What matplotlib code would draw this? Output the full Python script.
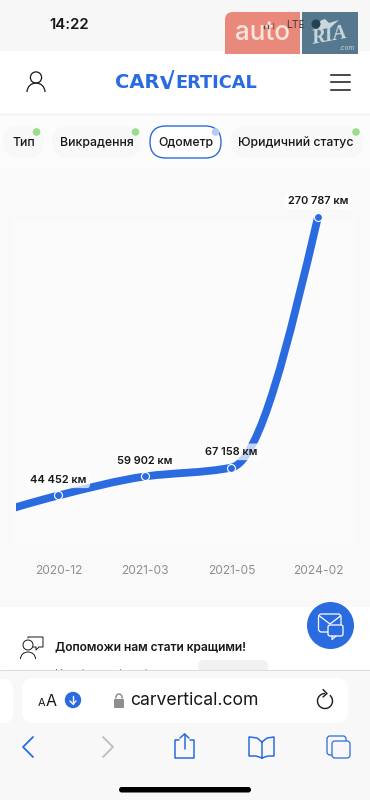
import numpy as np
import matplotlib
matplotlib.use('Agg')
import matplotlib.pyplot as plt
from matplotlib.patches import Rectangle, FancyBboxPatch, Circle, Arc, Polygon, PathPatch
from matplotlib.path import Path

plt.rcParams['font.family'] = ['Inter', 'DejaVu Sans']

# Data
dates = ['2020-12', '2021-03', '2021-05', '2024-02']
odometer = [44452, 59902, 67158, 270787]
odometer_labels = ['44 452 км', '59 902 км', '67 158 км', '270 787 км']
# the line enters from the left edge, earlier reading is hidden in the screenshot
hidden_reading = 24000

tabs = ['Тип', 'Викрадення', 'Одометр', 'Юридичний статус']

BLUE = '#2b6be0'
INK = '#17181a'
PX = 0.72  # px to pt at dpi 100


def px(size):
    return size * PX


def monotone_path(xs, ys):
    """Cubic bezier path through the points, monotone in x."""
    xs = np.asarray(xs, float)
    ys = np.asarray(ys, float)
    s = np.diff(ys) / np.diff(xs)
    t = np.zeros(len(xs))
    for i in range(1, len(xs) - 1):
        if s[i - 1] * s[i] > 0:
            t[i] = 2 * s[i - 1] * s[i] / (s[i - 1] + s[i])
    t[0] = (3 * s[0] - t[1]) / 2
    t[-1] = (3 * s[-1] - t[-2]) / 2
    verts = [(xs[0], ys[0])]
    codes = [Path.MOVETO]
    for i in range(len(s)):
        d = (xs[i + 1] - xs[i]) / 3
        verts += [(xs[i] + d, ys[i] + t[i] * d), (xs[i + 1] - d, ys[i + 1] - t[i + 1] * d), (xs[i + 1], ys[i + 1])]
        codes += [Path.CURVE4] * 3
    return Path(verts, codes)


def pill(ax, x0, y0, x1, y1, r, fc, ec='none', lw=0, z=2):
    p = FancyBboxPatch((x0 + r, y0 + r), x1 - x0 - 2 * r, y1 - y0 - 2 * r,
                       boxstyle=f'round,pad={r},rounding_size={r}', fc=fc, ec=ec, lw=lw, zorder=z)
    ax.add_patch(p)
    return p


def stroke(ax, pts, color, lw=1.3, z=6):
    a = np.array(pts, float)
    ax.plot(a[:, 0], a[:, 1], color=color, lw=lw, zorder=z, solid_capstyle='round', solid_joinstyle='round')


fig = plt.figure(figsize=(3.7, 8.0), dpi=100, facecolor='white')

# Page chrome, drawn in pixel coordinates
bg = fig.add_axes([0, 0, 1, 1])
bg.set_xlim(0, 370)
bg.set_ylim(800, 0)
bg.axis('off')

bg.add_patch(Rectangle((0, 0), 370, 51, fc='#f7f7f7', zorder=1))
bg.add_patch(Rectangle((0, 51), 370, 62, fc='white', zorder=1))
bg.add_patch(Rectangle((0, 113), 370, 55, fc='#fcfcfc', zorder=1))
bg.plot([0, 370], [113.5, 113.5], color='#f1f1f1', lw=1, zorder=2)
bg.add_patch(Rectangle((0, 168), 370, 439, fc='#f9f9fa', zorder=1))
bg.add_patch(Rectangle((13, 220), 342, 323, fc='#fbfbfb', zorder=1.5))
bg.add_patch(Rectangle((0, 607), 370, 63, fc='white', zorder=1))

# Status bar and watermark
bg.text(69.5, 25, '14:22', fontsize=px(15), fontweight='semibold', color=INK, ha='center', va='center', zorder=3)
pill(bg, 225, 12, 300, 62, 8, '#e8897c', z=2)
bg.add_patch(Rectangle((225, 51), 75, 12, fc='white', zorder=2.1))
bg.add_patch(Rectangle((225, 51), 75, 3, fc='#e8897c', zorder=2.2))
bg.add_patch(Rectangle((233, 12), 67, 42, fc='#e8897c', zorder=2.2))
bg.text(263, 33, 'auto', fontsize=px(26), fontweight='medium', color='#fbe3dd', ha='center', va='center', zorder=3)
bg.add_patch(Rectangle((302, 12), 56, 42, fc='#55788e', zorder=2))
bg.text(329, 36, 'RIA', fontsize=px(21), family='Liberation Serif', fontweight='bold', style='italic',
        color='#c8d8de', ha='center', va='center', rotation=10, zorder=3)
bg.text(347, 48, '.com', fontsize=px(6.5), color='#c8d8de', style='italic', ha='center', va='center', zorder=3)
bg.add_patch(Polygon([(316, 24), (322, 20), (325, 19), (329, 23), (339, 20), (331, 27), (320, 30)],
                     fc='#c8d8de', zorder=3))
bg.add_patch(Circle((316, 24), 4.5, fc='#26404f', zorder=3.1))
bg.text(296, 25.5, 'LTE', fontsize=px(10.5), color='#4c3a38', ha='center', va='center', zorder=3)
for x, h, c in [(264, 2, '#5a4a48'), (268, 3, '#5a4a48'), (272.5, 5, '#b04a40')]:
    bg.plot([x, x], [27.5, 27.5 - h], color=c, lw=1, zorder=3)

# Header
bg.add_patch(Circle((36, 77.5), 5.6, fc='none', ec=INK, lw=0.9, zorder=3))
bg.add_patch(Arc((36, 92), 18, 18, theta1=180, theta2=360, ec=INK, lw=0.9, zorder=3))
for y in [74.5, 82, 89.5]:
    bg.plot([331, 350], [y, y], color=INK, lw=1.1, zorder=3)
bg.text(115, 82.5, 'CAR', fontsize=px(19.5), family='DejaVu Sans', fontweight='bold', color=BLUE,
        ha='left', va='center', zorder=3)
bg.text(175, 82.5, 'ERTICAL', fontsize=px(17.7), family='DejaVu Sans', fontweight='bold', color=BLUE,
        ha='left', va='center', zorder=3)
bg.add_patch(Polygon([(160, 76), (164, 76), (167.5, 85), (172.5, 70), (174.5, 70), (169, 89), (165, 89)],
                     fc=BLUE, zorder=3))

# Tabs
tab_boxes = [(3, 44), (52, 141), (150, 221), (231, 363)]
tab_dots = [(36.5, 132), (135.5, 132), (215.5, 132), (356, 132)]
for i, (label, box, dot) in enumerate(zip(tabs, tab_boxes, tab_dots)):
    active = label == 'Одометр'
    pill(bg, box[0], 126, box[1], 158, 16, 'white' if active else '#f8f8f8',
         BLUE if active else 'none', 1.0 if active else 0, z=2)
    bg.text(sum(box) / 2 - (1 if i == 3 else 0), 143, label, fontsize=px(12.3), fontweight='medium', color=INK,
            ha='center', va='center', zorder=3)
    bg.add_patch(Circle(dot, 3.8, fc='#b3cdf0' if active else '#9bdc8e', ec='none', zorder=4))

# Odometer chart
ax = fig.add_axes([16 / 370, 1 - 543 / 800, 339 / 370, 343 / 800])
ax.patch.set_visible(False)
ax.set_xlim(-0.491, 3.428)
ax.set_ylim(5849, 284599)
positions = np.arange(len(dates))

line_x = np.concatenate([[-1], positions])
line_y = [hidden_reading] + odometer
ax.add_patch(PathPatch(monotone_path(line_x, line_y), fc='none', ec=BLUE, lw=px(7.8), capstyle='butt', zorder=2))
ax.plot(positions, odometer, 'o', ms=px(8), mfc=BLUE, mec='white', mew=0.8, zorder=3, clip_on=False)
for pos, val, lab in zip(positions, odometer, odometer_labels):
    ax.annotate(lab, (pos, val), xytext=(0, px(15.7)), textcoords='offset points', ha='center', va='center',
                fontsize=px(11), fontweight='semibold', color=INK, zorder=4, annotation_clip=False,
                bbox=dict(boxstyle='round,pad=0.3', fc='white', ec='none', alpha=0.72))

ax.set_xticks(positions)
ax.set_xticklabels(dates, fontsize=px(12), color='#8e8f91')
ax.set_yticks([])
ax.tick_params(axis='x', length=0, pad=px(21.5))
for side in ax.spines:
    ax.spines[side].set_visible(False)

# Footer content, cut off by the browser toolbar
chrome = fig.add_axes([0, 0, 1, 1])
chrome.set_xlim(0, 370)
chrome.set_ylim(800, 0)
chrome.axis('off')
chrome.patch.set_visible(False)

chrome.text(55, 648, 'Допоможи нам стати кращими!', fontsize=px(12), fontweight='semibold', color=INK,
            ha='left', va='center', zorder=3)
pill(chrome, 198, 660, 268, 680, 6, '#f1f1f1', z=2)
chrome.text(55, 673, 'Наскільки ці дані', fontsize=px(11), color='#555555', va='center', zorder=2)
chrome.add_patch(Circle((28, 645), 5, fc='none', ec=INK, lw=0.7, zorder=3))
chrome.add_patch(Arc((28, 659), 15, 14, theta1=180, theta2=360, ec=INK, lw=0.7, zorder=3))
stroke(chrome, [(28, 638), (28, 637), (43, 637), (43, 647), (39, 647), (36, 650), (36, 647), (33, 647)], INK, 0.7, 3)

# Chat button
chrome.add_patch(Circle((330.5, 625.5), 23.5, fc=BLUE, zorder=5))
env = pill(chrome, 318.5, 614, 341, 632, 3, BLUE, 'white', 0.9, z=6)
stroke(chrome, [(319.5, 616), (330, 624), (340.5, 616)], 'white', 0.9, 6)
pill(chrome, 328, 625, 343, 636, 2, BLUE, 'white', 0.9, z=7)
stroke(chrome, [(332, 636), (332, 639.5), (336, 636)], 'white', 0.9, 7)

# Browser toolbar
chrome.add_patch(Rectangle((0, 670), 370, 130, fc='#f8f8f8', zorder=8))
chrome.plot([0, 370], [669.5, 669.5], color='#dcdcdc', lw=0.7, zorder=9)
pill(chrome, -20, 679, 13, 723, 10, 'white', z=9)
pill(chrome, 22, 678, 348, 723, 12, 'white', z=9)
chrome.text(41.5, 703, 'A', fontsize=px(11), color=INK, ha='center', va='center', zorder=10)
chrome.text(51, 701, 'A', fontsize=px(16), color=INK, ha='center', va='center', zorder=10)
chrome.add_patch(Circle((73, 700), 8.2, fc=BLUE, zorder=10))
stroke(chrome, [(73, 696), (73, 704)], 'white', 1.0, 11)
stroke(chrome, [(70, 701), (73, 704), (76, 701)], 'white', 1.0, 11)
chrome.add_patch(FancyBboxPatch((115, 700), 8, 7, boxstyle='round,pad=1,rounding_size=1', fc='#8e8e8e', ec='none', zorder=10))
chrome.add_patch(Arc((119, 698.5), 6.5, 9, theta1=180, theta2=360, ec='#8e8e8e', lw=1.1, zorder=10))
chrome.text(194.5, 700.5, 'carvertical.com', fontsize=px(17.6), color=INK, ha='center', va='center', zorder=10)
chrome.add_patch(Arc((325, 701), 15, 15, theta1=-50, theta2=270, ec=INK, lw=1.0, zorder=10))
stroke(chrome, [(323, 689.5), (327, 693.5), (323, 697)], INK, 1.0, 10)

stroke(chrome, [(33, 737), (23, 747), (33, 757)], BLUE, 1.3, 10)
stroke(chrome, [(103, 737), (113, 747), (103, 757)], '#bdbdbd', 1.3, 10)
# share
stroke(chrome, [(179, 740), (175, 740), (175, 758), (194, 758), (194, 740), (190, 740)], BLUE, 1.1, 10)
stroke(chrome, [(184.5, 749), (184.5, 734)], BLUE, 1.1, 10)
stroke(chrome, [(180, 738), (184.5, 734), (189, 738)], BLUE, 1.1, 10)
# book
stroke(chrome, [(262, 742), (257, 738), (250, 737), (249, 737), (249, 756), (256, 756), (262, 758),
                (268, 756), (274, 756), (274, 737), (267, 738), (262, 742), (262, 758)], BLUE, 1.1, 10)
# tabs
pill(chrome, 327, 736, 346, 755, 3, '#f8f8f8', BLUE, 0.9, z=10)
pill(chrome, 332, 741, 350, 758, 3, '#f8f8f8', BLUE, 0.9, z=11)
# home indicator
pill(chrome, 119, 787, 251, 792.5, 2.7, 'black', z=10)

fig.savefig('out.png', dpi=100, facecolor='white')
